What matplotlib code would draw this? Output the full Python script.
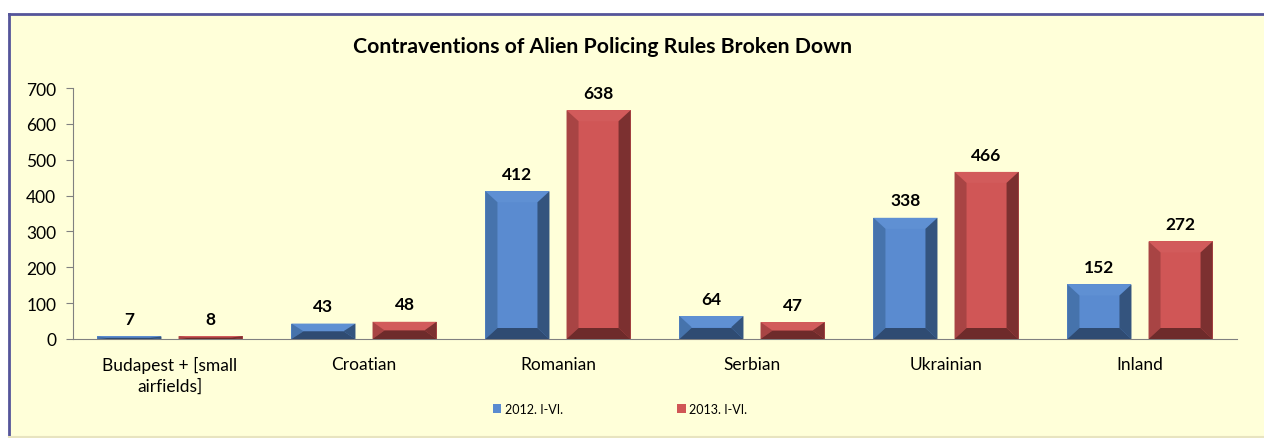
import numpy as np
import matplotlib
matplotlib.use('Agg')
from matplotlib import pyplot as plt
from matplotlib.patches import Polygon

categories = ['Budapest + [small\nairfields]', 'Croatian', 'Romanian', 'Serbian', 'Ukrainian', 'Inland']
series_names = ['2012. I-VI.', '2013. I-VI.']
values_2012 = [7, 43, 412, 64, 338, 152]
values_2013 = [8, 48, 638, 47, 466, 272]
yticks = [0, 100, 200, 300, 400, 500, 600, 700]

# face, top, left, right, bottom
blue = ['#5A8BD0', '#5F90D3', '#4673AC', '#34547E', '#2F4B72']
red = ['#D05656', '#D25B5B', '#A84444', '#7C3030', '#6E2B2B']

plt.rcParams['font.family'] = ['Lato', 'DejaVu Sans']

fig = plt.figure(figsize=(12.64, 4.39), dpi=100)
fig.patch.set_facecolor('white')
W, H = 1264, 439

# chart area background: yellow panel, framed on the left and top
bg = fig.add_axes([9 / W, 1.5 / H, 1.0, 1 - 16.5 / H], zorder=-5)
bg.set_facecolor('#FFFFD9')
bg.set_xticks([])
bg.set_yticks([])
bg.spines['left'].set_color('#55559A')
bg.spines['top'].set_color('#55559A')
bg.spines['left'].set_linewidth(2)
bg.spines['top'].set_linewidth(2)
bg.spines['bottom'].set_color('#E8E4C0')
bg.spines['bottom'].set_linewidth(1.5)
bg.spines['right'].set_visible(False)

ax = fig.add_axes([73 / W, 1 - 340 / H, (1237 - 73) / W, (340 - 89) / H])
ax.set_facecolor('none')

x = np.arange(len(categories))
bw = 0.33
off = 0.209


def bevel_bar(ax, pos, vals, cols):
    bars = ax.bar(pos, vals, bw, color=cols[0], edgecolor='none', zorder=2)
    # bevel size in pixels converted to data units
    px_x = (ax.get_xlim()[1] - ax.get_xlim()[0]) / (1237 - 73)
    px_y = (ax.get_ylim()[1] - ax.get_ylim()[0]) / (340 - 89)
    for b, v in zip(bars, vals):
        x0 = b.get_x()
        x1 = x0 + b.get_width()
        h = b.get_height()
        dy = min(11 * px_y, h / 2)
        dx = min(12 * px_x, b.get_width() / 2)
        polys = [
            ([(x0, h), (x1, h), (x1 - dx, h - dy), (x0 + dx, h - dy)], cols[1]),
            ([(x0, 0), (x0, h), (x0 + dx, h - dy), (x0 + dx, dy)], cols[2]),
            ([(x1, 0), (x1, h), (x1 - dx, h - dy), (x1 - dx, dy)], cols[3]),
            ([(x0, 0), (x1, 0), (x1 - dx, dy), (x0 + dx, dy)], cols[4]),
        ]
        for pts, c in polys:
            ax.add_patch(Polygon(pts, closed=True, facecolor=c, edgecolor='none', zorder=3))
        ax.annotate(str(v), (b.get_x() + b.get_width() / 2, h), xytext=(0, 12.5),
                    textcoords='offset points', ha='center', va='center',
                    fontsize=12.5, fontweight='bold', color='black')
    return bars


ax.set_xlim(-0.5, len(categories) - 0.5)
ax.set_ylim(0, 700)
b1 = bevel_bar(ax, x - off, values_2012, blue)
b2 = bevel_bar(ax, x + off, values_2013, red)

ax.set_yticks(yticks)
ax.set_xticks(x)
ax.set_xticklabels(categories, fontsize=12.5, linespacing=1.3)
ax.tick_params(axis='y', labelsize=12.5, length=5, color='#808080', pad=7)
ax.tick_params(axis='x', length=0, pad=12.5)
for s in ['top', 'right']:
    ax.spines[s].set_visible(False)
ax.spines['left'].set_color('#808080')
ax.spines['bottom'].set_color('#808080')

fig.text(603 / W, 1 - 47 / H, 'Contraventions of Alien Policing Rules Broken Down',
         ha='center', va='center', fontsize=15.3, fontweight='bold')

leg = fig.legend([b1, b2], series_names, loc='center', bbox_to_anchor=(620 / W, 1 - 410 / H),
                 ncol=2, frameon=False, fontsize=9, handlelength=0.7, handleheight=0.7,
                 columnspacing=9.1, handletextpad=0.3)

fig.savefig('out.png', dpi=100, facecolor=fig.get_facecolor())
